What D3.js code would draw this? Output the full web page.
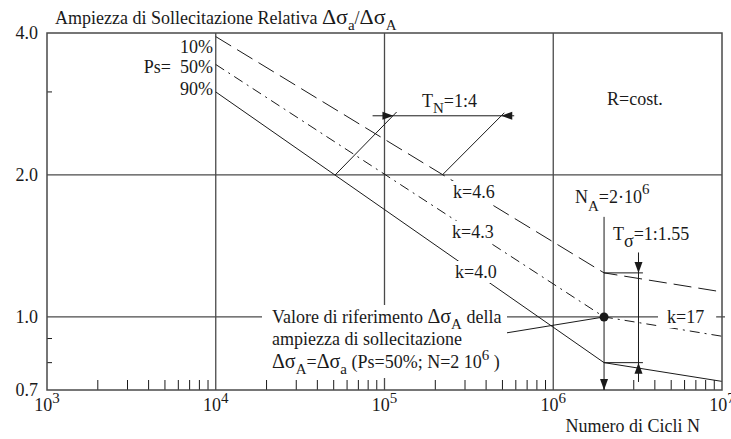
<!DOCTYPE html>
<html>
<head>
<meta charset="utf-8">
<script src="https://cdn.jsdelivr.net/npm/d3@7"></script>
<style>
  body { margin: 0; background: #fff; }
  text { font-family: 'Liberation Serif', 'Times New Roman', serif; fill: #1a1a1a; }
</style>
</head>
<body>
<div id="chart"></div>
<script>
// Axis values
const cycleDecades = [1e3, 1e4, 1e5, 1e6, 1e7];
const stressLabels = [0.7, 1.0, 2.0, 4.0];
const stressMinor = [0.8, 0.9, 3.0];
const gridCycles = [1e4, 1e5, 1e6];
const gridStress = [1.0, 2.0];

// Wöhler curves (knee at N_A = 2e6, k = 17 beyond)
const curveN = [1e4, 2e6, 1e7];
const curve10 = [3.93, 1.24, 1.13];
const curve50 = [3.43, 1.0, 0.91];
const curve90 = [3.0, 0.80, 0.73];

// Annotation points (data units)
const tnLevel = 2.67;
const tnSpan = [8.5e4, 5.87e5];
const tnTips = [1.13e5, 4.92e5];
const tnDiag1 = [[5.1e4, 2.0], [1.18e5, 2.72]];
const tnDiag2 = [[2.2e5, 2.0], [5.13e5, 2.71]];
const naCycles = 2e6;
const naTop = 1.63;
const tsCycles = 3.2e6;
const tsRange = [1.37, 0.728];
const tsTicksEnd = 3.4e6;
const refLeader = [[5.27e5, 0.925], [2e6, 1.0]];

const width = 731, height = 439;
const svg = d3.select("#chart").append("svg")
    .attr("width", width)
    .attr("height", height);

const x = d3.scaleLog().domain([1e3, 1e7]).range([47, 722]);
const y = d3.scaleLog().domain([0.7, 4.0]).range([390, 33]);

const ink = "#1a1a1a";
const frameCol = "#4a4a4a";
const fs = 18, fsSmall = 14;

// gridlines
svg.selectAll(".gx").data(gridCycles).enter().append("line")
    .attr("x1", d => x(d)).attr("x2", d => x(d))
    .attr("y1", y(4.0)).attr("y2", y(0.7))
    .attr("stroke", frameCol).attr("stroke-width", 1.3);
svg.selectAll(".gy").data(gridStress).enter().append("line")
    .attr("x1", x(1e3)).attr("x2", d => d === 1.0 ? x(1e7) + 3 : x(1e7))
    .attr("y1", d => y(d)).attr("y2", d => y(d))
    .attr("stroke", frameCol).attr("stroke-width", 1.3);

// minor ticks on x axis
const minorN = [];
cycleDecades.slice(0, -1).forEach(dec => {
    for (let m = 2; m <= 9; m++) minorN.push(dec * m);
});
svg.selectAll(".mx").data(minorN).enter().append("line")
    .attr("x1", d => x(d)).attr("x2", d => x(d))
    .attr("y1", y(0.7)).attr("y2", y(0.7) - 10)
    .attr("stroke", ink).attr("stroke-width", 1);
svg.selectAll(".my").data(stressMinor).enter().append("line")
    .attr("x1", x(1e3)).attr("x2", x(1e3) + 5)
    .attr("y1", d => y(d)).attr("y2", d => y(d))
    .attr("stroke", ink).attr("stroke-width", 1);

// curves
const line = d3.line().x(d => x(d[0])).y(d => y(d[1]));
const curves = [
    { vals: curve10, dash: "18,7" },
    { vals: curve50, dash: "10,5,2,5" },
    { vals: curve90, dash: null }
];
curves.forEach(c => {
    svg.append("path")
        .datum(curveN.map((n, i) => [n, c.vals[i]]))
        .attr("d", line)
        .attr("fill", "none")
        .attr("stroke", ink)
        .attr("stroke-width", 1)
        .attr("stroke-dasharray", c.dash);
});

// frame
svg.append("rect")
    .attr("x", x(1e3)).attr("y", y(4.0))
    .attr("width", x(1e7) - x(1e3)).attr("height", y(0.7) - y(4.0))
    .attr("fill", "none").attr("stroke", frameCol).attr("stroke-width", 1.5);

// arrow head helper: tip at (px,py), pointing in direction (dx,dy)
function arrow(px, py, dx, dy) {
    const L = 11, W = 4;
    const bx = px - dx * L, by = py - dy * L;
    svg.append("path")
        .attr("d", `M${px},${py}L${bx - dy * W},${by + dx * W}L${bx + dy * W},${by - dx * W}Z`)
        .attr("fill", ink);
}

// T_N annotation
svg.append("line")
    .attr("x1", x(tnSpan[0])).attr("x2", x(tnSpan[1]))
    .attr("y1", y(tnLevel)).attr("y2", y(tnLevel))
    .attr("stroke", ink).attr("stroke-width", 1);
[tnDiag1, tnDiag2].forEach(dg => {
    svg.append("path").datum(dg).attr("d", line)
        .attr("stroke", ink).attr("stroke-width", 1).attr("fill", "none");
});
arrow(x(tnTips[0]), y(tnLevel), 1, 0);
arrow(x(tnTips[1]), y(tnLevel), -1, 0);

// N_A vertical
svg.append("line")
    .attr("x1", x(naCycles)).attr("x2", x(naCycles))
    .attr("y1", y(naTop)).attr("y2", y(0.7))
    .attr("stroke", ink).attr("stroke-width", 1);
arrow(x(naCycles), y(0.7), 0, 1);

// T_sigma
svg.append("line")
    .attr("x1", x(tsCycles)).attr("x2", x(tsCycles))
    .attr("y1", y(tsRange[0])).attr("y2", y(tsRange[1]))
    .attr("stroke", ink).attr("stroke-width", 1);
[curve10[1], curve90[1]].forEach(v => {
    svg.append("line")
        .attr("x1", x(naCycles)).attr("x2", x(tsTicksEnd))
        .attr("y1", y(v)).attr("y2", y(v))
        .attr("stroke", ink).attr("stroke-width", 1);
});
arrow(x(tsCycles), y(curve10[1]), 0, 1);
arrow(x(tsCycles), y(curve90[1]), 0, -1);

// leader from reference text to the point
svg.append("path").datum(refLeader).attr("d", line)
    .attr("stroke", ink).attr("stroke-width", 1).attr("fill", "none");

// rich text helper: parts = [text, size, shift]
function rich(px, py, parts, opts = {}) {
    const t = svg.append("text")
        .attr("x", px).attr("y", py)
        .attr("text-anchor", opts.anchor || "start");
    let cur = 0;
    parts.forEach(p => {
        const [str, size, shift] = p;
        const s = shift || 0;
        t.append("tspan")
            .attr("dy", s - cur)
            .attr("font-size", size || fs)
            .text(str);
        cur = s;
    });
    if (opts.mask) {
        const b = t.node().getBBox();
        const padL = opts.padL || 2, padR = opts.padR || 2;
        svg.insert("rect", () => t.node())
            .attr("x", b.x - padL).attr("y", b.y - 1)
            .attr("width", b.width + padL + padR).attr("height", b.height + 2)
            .attr("fill", "#fff");
    }
    return t;
}

// white box behind reference text block
svg.append("rect")
    .attr("x", 262).attr("y", 305)
    .attr("width", 245).attr("height", 73)
    .attr("fill", "#fff");

// dot at reference point
svg.append("circle")
    .attr("cx", x(2e6)).attr("cy", y(1.0))
    .attr("r", 4.5).attr("fill", ink);

// title
rich(55, 24, [
    ["Ampiezza di Sollecitazione Relativa ", fs],
    ["Δσ", 22], ["a", 15, 6], ["/", fs, 0], ["Δσ", 22], ["A", 15, 6]
]);

// y labels
svg.selectAll(".yl").data(stressLabels).enter().append("text")
    .attr("x", 38).attr("y", d => y(d) + 6)
    .attr("text-anchor", "end")
    .attr("font-size", fs)
    .text(d => d.toFixed(1));

// x labels
cycleDecades.forEach(d => {
    rich(x(d), 411, [["10", fs], [String(Math.round(Math.log10(d))), 15, -8]], { anchor: "middle" });
});

rich(700, 432, [["Numero di Cicli N", fs]], { anchor: "end" });

// Ps labels
rich(171, 73, [["Ps=", fs]], { anchor: "end" });
rich(213, 53, [["10%", fs]], { anchor: "end" });
rich(213, 73, [["50%", fs]], { anchor: "end" });
rich(213, 95, [["90%", fs]], { anchor: "end" });

rich(422, 107, [["T", fs], ["N", fsSmall + 1, 6], ["=1:4", fs, 0]]);
rich(607, 105, [["R=cost.", fs]]);

// k labels (mask the curves)
rich(453, 198, [["k=4.6", fs]], { mask: true });
rich(452, 238, [["k=4.3", fs]], { mask: true });
rich(455, 278, [["k=4.0", fs]], { mask: true });
rich(667, 323, [["k=17", fs]], { mask: true, padL: 9, padR: 12 });

rich(575, 203, [["N", fs], ["A", 15, 8], ["=2·10", fs, 0], ["6", 15, -9]]);
rich(613, 240, [["T", fs], ["σ", fs, 7], ["=1:1.55", fs, 0]]);

// reference text block
rich(272, 323, [["Valore di riferimento ", fs], ["Δσ", 20], ["A", 15, 6], [" della", fs, 0]]);
rich(272, 345, [["ampiezza di sollecitazione", fs]]);
rich(272, 368, [["Δσ", 20], ["A", 15, 6], ["=", fs, 0], ["Δσ", 20], ["a", 15, 6],
    [" (Ps=50%; N=2 10", fs, 0], ["6", 15, -8], [" )", fs, 0]]);
</script>
</body>
</html>
